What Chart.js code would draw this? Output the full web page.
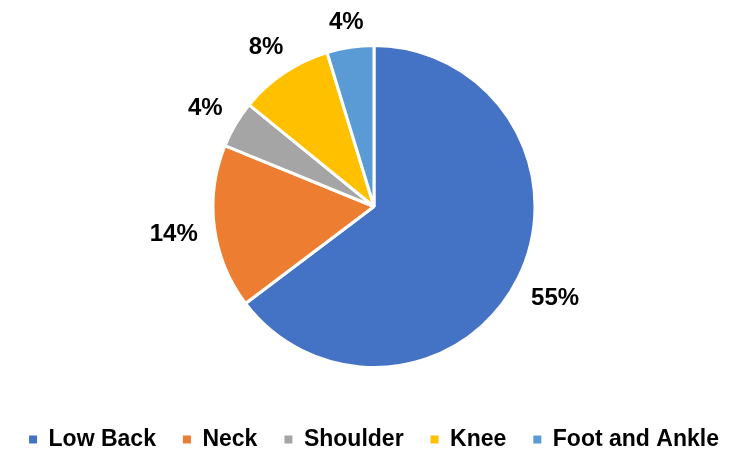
<!DOCTYPE html>
<html>
<head>
<meta charset="utf-8">
<script src="https://cdn.jsdelivr.net/npm/chart.js@4"></script>
<style>
  html, body { margin: 0; padding: 0; background: #fff; }
  #wrap { width: 750px; height: 466px; }
</style>
</head>
<body>
<div id="wrap"><canvas id="pieChart"></canvas></div>
<script>
const regions = ["Low Back", "Neck", "Shoulder", "Knee", "Foot and Ankle"];
const shares = [55, 14, 4, 8, 4];
const colors = ["#4472C4", "#ED7D31", "#A5A5A5", "#FFC000", "#5B9BD5"];

const FONT = '"Liberation Sans", Arial, sans-serif';

// percentage labels just outside each slice
const pctLabels = {
    id: "pctLabels",
    afterDatasetsDraw(chart) {
        const ctx = chart.ctx;
        const meta = chart.getDatasetMeta(0);
        ctx.save();
        ctx.font = "bold 24px " + FONT;
        ctx.fillStyle = "#000";
        ctx.textAlign = "center";
        ctx.textBaseline = "alphabetic";
        meta.data.forEach((arc, i) => {
            const p = arc.getProps(["x", "y", "startAngle", "endAngle", "outerRadius"], true);
            const mid = (p.startAngle + p.endAngle) / 2;
            const text = shares[i] + "%";
            const w = ctx.measureText(text).width;
            const h = 17;
            const cos = Math.cos(mid), sin = Math.sin(mid);
            const d = p.outerRadius + 16 + Math.abs(cos) * w / 2 + Math.abs(sin) * h / 2;
            ctx.fillText(text, p.x + cos * d, p.y + sin * d + h / 2);
        });
        ctx.restore();
    }
};

new Chart(document.getElementById("pieChart"), {
    type: "pie",
    data: {
        labels: regions,
        datasets: [{
            data: shares,
            backgroundColor: colors,
            borderColor: "#fff",
            borderWidth: 3
        }]
    },
    options: {
        responsive: true,
        maintainAspectRatio: false,
        animation: false,
        radius: 161,
        layout: { padding: { top: 12, bottom: 5, left: 0, right: 2 } },
        plugins: {
            tooltip: { enabled: false },
            legend: {
                position: "bottom",
                labels: {
                    boxWidth: 8,
                    boxHeight: 8,
                    padding: 27,
                    color: "#000",
                    font: { family: FONT, size: 23, weight: "bold" },
                    generateLabels(chart) {
                        const items = Chart.overrides.pie.plugins.legend.labels.generateLabels(chart);
                        return items.map(it => Object.assign(it, { lineWidth: 0, strokeStyle: it.fillStyle }));
                    }
                }
            }
        }
    },
    plugins: [pctLabels]
});
</script>
</body>
</html>
